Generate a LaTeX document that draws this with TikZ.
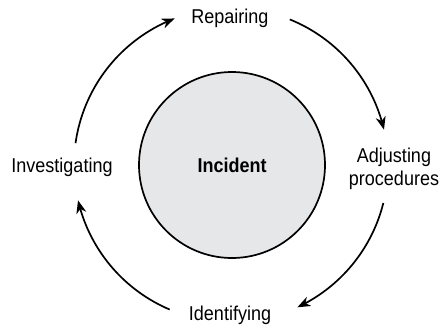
\documentclass[tikz,border=0pt]{standalone}
\usepackage{fontspec}
\setmainfont{Liberation Sans}[FakeStretch=0.9]
\usepackage{tikz}
\usetikzlibrary{positioning,arrows.meta,bending}
\definecolor{incgray}{HTML}{E6E7E8}
\tikzset{
  lbl/.style={font=\fontsize{20}{23}\selectfont,align=center,inner sep=0pt},
  core/.style={circle,draw,line width=1.7pt,fill=incgray,minimum size=186pt,
    font=\fontsize{20}{23}\selectfont\bfseries},
  arr/.style={-{Stealth[length=13pt,width=10pt,inset=4pt,flex]},line width=1.7pt},
}

\begin{document}
\begin{tikzpicture}[x=1pt,y=1pt]
\useasboundingbox (0,0) rectangle (442,330);
\node[core] (inc) at (232,165) {Incident};
\node[lbl,anchor=base] (rep) at (230,306) {Repairing};
\node[lbl] (adj) at (394,161) {Adjusting\\procedures};
\node[lbl,anchor=base] (idf) at (230,10) {Identifying};
\node[lbl,anchor=base] (inv) at (62,158) {Investigating};
% ring of arcs round the incident
\coordinate (o) at (231,165);
\coordinate (a1) at ([shift={(68:157)}]o);
\coordinate (a2) at ([shift={(-14:157)}]o);
\coordinate (a3) at ([shift={(-113:157)}]o);
\coordinate (a4) at ([shift={(172:157)}]o);
\draw[arr] (a1) arc[start angle=68,end angle=13,radius=157];
\draw[arr] (a2) arc[start angle=-14,end angle=-65,radius=157];
\draw[arr] (a3) arc[start angle=-113,end angle=-167,radius=157];
\draw[arr] (a4) arc[start angle=172,end angle=111,radius=157];
\end{tikzpicture}
\end{document}
